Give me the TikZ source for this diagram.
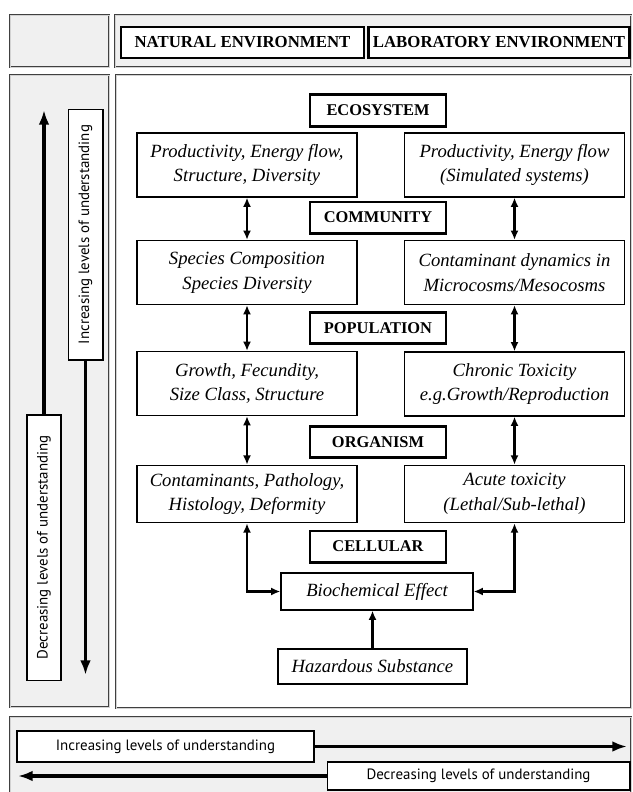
\documentclass[tikz,border=0pt]{standalone}
\usepackage{fontspec}
\setmainfont{Liberation Serif}
\newfontfamily\sidefont{PT Sans}
\usetikzlibrary{arrows.meta, positioning}

\begin{document}
\begin{tikzpicture}[
  x=0.75pt, y=-0.75pt,
  panel/.style={draw=black!75, line width=0.6pt, double=gray!35, double distance=0.6pt, fill=gray!12},
  mainpanel/.style={panel, fill=white},
  envnode/.style={rectangle, draw, line width=1.8pt, fill=white, minimum height=23pt, font=\bfseries\fontsize{12.6}{14}\selectfont},
  levelnode/.style={rectangle, draw, line width=2pt, fill=white, minimum width=102pt, minimum height=23.5pt, font=\bfseries\fontsize{12.3}{14}\selectfont},
  effnode/.style={rectangle, draw, line width=0.9pt, fill=white, align=center, minimum width=165pt, minimum height=48pt, font=\itshape\fontsize{14}{18.5}\selectfont},
  sidenode/.style={rectangle, draw, line width=1pt, fill=white, font=\sidefont\fontsize{11.2}{13}\selectfont},
  linkarrow/.style={{Latex[length=7pt,width=6pt]}-{Latex[length=7pt,width=6pt]}, line width=1.6pt},
  bigarrow/.style={-{Latex[length=11pt,width=8pt]}, line width=2.4pt}
]
\useasboundingbox (0,0) rectangle (632,792);
\clip (0,0) rectangle (632,792);

% Panels
\draw[panel] (10,15) rectangle (109,67);
\draw[panel] (115,15) rectangle (631,67);
\draw[panel] (10,75) rectangle (109,707);
\draw[mainpanel] (116,75) rectangle (631,708);
\draw[panel] (10,717) rectangle (631,800);

% Environments
\node[envnode, minimum width=182pt] (nat_env) at (242.5,42.5) {NATURAL ENVIRONMENT};
\node[envnode, minimum width=193.5pt] (lab_env) at (499,42.5) {LABORATORY ENVIRONMENT};

% Levels of organisation
\node[levelnode] (eco) at (378,110.5) {ECOSYSTEM};
\node[levelnode] (com) at (378,217.5) {COMMUNITY};
\node[levelnode] (pop) at (378,328) {POPULATION};
\node[levelnode] (org) at (378,442) {ORGANISM};
\node[levelnode] (cel) at (378,546.5) {CELLULAR};

% Natural environment effects
\node[effnode] (eco_nat) at (247,165) {Productivity, Energy flow,\\Structure, Diversity};
\node[effnode] (com_nat) at (247,272.5) {Species Composition\\Species Diversity};
\node[effnode] (pop_nat) at (247,383.5) {Growth, Fecundity,\\Size Class, Structure};
\node[effnode, minimum height=43pt] (org_nat) at (247,494) {Contaminants, Pathology,\\Histology, Deformity};

% Laboratory environment effects
\node[effnode] (eco_lab) at (514.5,165) {Productivity, Energy flow\\(Simulated systems)};
\node[effnode] (com_lab) at (514.5,272.5) {Contaminant dynamics in\\Microcosms/Mesocosms};
\node[effnode] (pop_lab) at (514.5,384) {Chronic Toxicity\\e.g.Growth/Reproduction};
\node[effnode, minimum height=43pt] (org_lab) at (514.5,494) {Acute toxicity\\(Lethal/Sub-lethal)};

\node[effnode, minimum width=144pt, minimum height=27.75pt] (bio) at (377,591.5) {Biochemical Effect};
\node[effnode, minimum width=141.75pt, minimum height=26.25pt] (haz) at (372.5,666.5) {Hazardous Substance};

\draw[linkarrow] (eco_nat) -- (com_nat);
\draw[linkarrow] (com_nat) -- (pop_nat);
\draw[linkarrow] (pop_nat) -- (org_nat);
\draw[linkarrow] (eco_lab) -- (com_lab);
\draw[linkarrow] (com_lab) -- (pop_lab);
\draw[linkarrow] (pop_lab) -- (org_lab);
\draw[linkarrow] (org_nat.south) |- (bio.west);
\draw[linkarrow] (org_lab.south) |- (bio.east);
\draw[-{Latex[length=7pt,width=6pt]}, line width=1.6pt] (haz.north) -- (haz.north |- bio.south);

% Side scale
\node[sidenode, rotate=90, minimum width=188pt, minimum height=26pt] (inc_side) at (85.5,234.5) {Increasing levels of understanding};
\node[sidenode, rotate=90, minimum width=199pt, minimum height=25.5pt] (dec_side) at (44,547.5) {Decreasing levels of understanding};
\coordinate (up_tip) at (44,110);
\coordinate (down_tip) at (85.5,675);
\draw[bigarrow] (dec_side.east) -- (up_tip);
\draw[bigarrow] (inc_side.west) -- (down_tip);

% Bottom scale
\node[sidenode, minimum width=222.75pt, minimum height=23.25pt] (inc_bot) at (165.5,746.5) {Increasing levels of understanding};
\node[sidenode, minimum width=227pt, minimum height=21pt] (dec_bot) at (478.5,776) {Decreasing levels of understanding};
\coordinate (right_tip) at (627,746.5);
\coordinate (left_tip) at (18,776);
\draw[bigarrow] (inc_bot.east) -- (right_tip);
\draw[bigarrow] (dec_bot.west) -- (left_tip);

\end{tikzpicture}
\end{document}
